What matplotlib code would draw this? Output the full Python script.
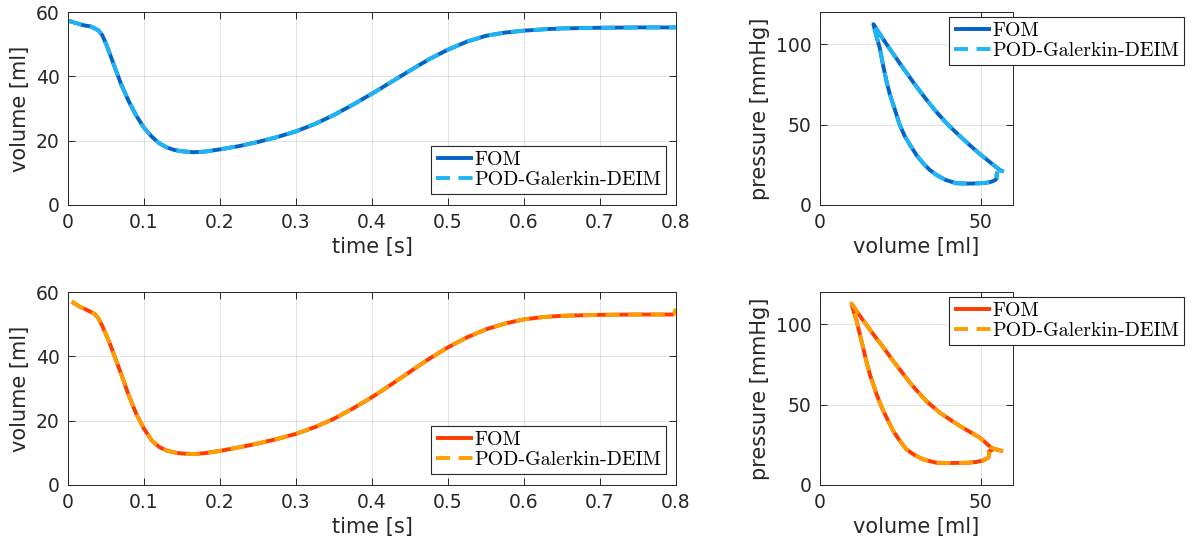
import matplotlib
matplotlib.use("Agg")
import matplotlib.pyplot as plt
from matplotlib.font_manager import FontProperties

W, H = 1195, 549

# ---- volume over time (top: case 1, bottom: case 2)
t_top = [0, 0.01, 0.02, 0.03, 0.04, 0.045, 0.05, 0.055, 0.06, 0.07, 0.08, 0.09,
         0.10, 0.11, 0.12, 0.13, 0.14, 0.15, 0.165, 0.18, 0.2, 0.225, 0.25, 0.275,
         0.3, 0.325, 0.35, 0.375, 0.4, 0.425, 0.45, 0.475, 0.5, 0.525, 0.55, 0.575,
         0.6, 0.625, 0.65, 0.7, 0.75, 0.8]
v_top = [57.3, 56.6, 55.9, 55.5, 54.3, 52.8, 50.2, 47.0, 43.8, 37.5, 32.2, 27.7,
         24.0, 21.3, 19.2, 17.9, 17.1, 16.7, 16.4, 16.6, 17.3, 18.3, 19.6, 21.1,
         22.9, 25.2, 28.0, 31.2, 34.6, 38.2, 41.8, 45.3, 48.3, 50.8, 52.6, 53.6,
         54.2, 54.6, 54.9, 55.1, 55.2, 55.2]

t_bot = [0.005, 0.015, 0.025, 0.035, 0.04, 0.045, 0.05, 0.055, 0.06, 0.07, 0.08, 0.09,
         0.10, 0.11, 0.12, 0.13, 0.14, 0.15, 0.165, 0.18, 0.2, 0.225, 0.25, 0.275,
         0.3, 0.325, 0.35, 0.375, 0.4, 0.425, 0.45, 0.475, 0.5, 0.525, 0.55, 0.575,
         0.6, 0.625, 0.65, 0.7, 0.75, 0.797]
v_bot = [57.0, 55.5, 54.4, 53.2, 51.8, 49.5, 46.8, 44.0, 40.8, 34.5, 27.8, 22.0,
         17.5, 13.9, 11.8, 10.7, 10.1, 9.8, 9.6, 9.9, 10.6, 11.7, 12.9, 14.3,
         15.9, 18.0, 20.6, 23.8, 27.3, 31.2, 35.2, 39.2, 42.8, 45.9, 48.4, 50.2,
         51.5, 52.2, 52.6, 52.9, 53.0, 53.0]
# reduced model ends with a small jump at t = 0.8
t_bot_rom_end = [0.8]
v_bot_rom_end = [54.8]

# ---- pressure-volume loops
pv_top_v = [57.1, 55.9, 53.3, 50.0, 46.5, 43.0, 39.8, 36.3, 32.8, 29.3, 25.9, 22.8,
            19.7, 16.6, 17.4, 18.6, 19.6, 20.7, 21.7, 22.8, 24.8, 26.3, 28.0, 30.0,
            32.1, 34.0, 36.2, 39.0, 42.4, 46.0, 49.7, 52.0, 53.3, 54.5, 54.9, 54.9, 55.2]
pv_top_p = [20.7, 21.8, 25.9, 31.2, 37.3, 43.8, 49.9, 57.6, 66.2, 75.5, 85.0, 93.8,
            102.9, 112.4, 106.0, 97.5, 87.0, 76.7, 69.0, 62.2, 49.8, 43.0, 37.3, 31.0,
            25.9, 22.0, 18.7, 15.6, 13.5, 13.3, 13.5, 13.9, 14.5, 15.5, 16.6, 18.8, 20.7]

pv_bot_v = [56.9, 55.0, 53.3, 51.5, 49.7, 46.6, 43.5, 40.4, 37.3, 35.2, 33.1, 30.5,
            27.95, 25.4, 22.8, 19.7, 16.6, 13.1, 9.8, 10.6, 11.4, 12.4, 13.4, 14.4,
            15.5, 17.6, 19.7, 22.8, 24.8, 26.9, 29.5, 32.1, 36.2, 41.0, 45.6, 48.5,
            50.7, 52.3, 52.6, 52.6, 53.8]
pv_bot_p = [21.0, 22.0, 23.1, 26.3, 29.4, 33.0, 36.7, 40.7, 44.9, 48.5, 52.1, 57.8,
            63.6, 70.3, 77.0, 85.5, 93.7, 103.2, 112.8, 107.0, 102.0, 93.5, 85.4, 77.0,
            68.8, 56.3, 45.9, 33.5, 27.5, 22.1, 18.5, 15.9, 13.8, 13.7, 13.8, 14.3,
            15.2, 16.9, 19.0, 21.0, 22.1]

labels = ["FOM", "POD-Galerkin-DEIM"]
blue_fom, blue_rom = "#0563C8", "#1DB5F4"
red_fom, red_rom = "#FF3B00", "#FF9E00"

TXT = "#262626"
plt.rcParams["font.family"] = "DejaVu Sans"
legend_font = FontProperties(family="cmr10", size=14.4)


def px_rect(left, right, top, bottom):
    return [left / W, 1 - bottom / H, (right - left) / W, (bottom - top) / H]


def style_axes(ax):
    for s in ax.spines.values():
        s.set_color(TXT)
        s.set_linewidth(0.7)
    ax.tick_params(direction="in", top=True, right=True, length=5, width=0.7,
                   color=TXT, labelcolor=TXT, labelsize=13.5, pad=6)
    ax.grid(True, color=TXT, alpha=0.15, linewidth=0.6)
    ax.set_axisbelow(True)


def draw_pair(ax, x1, y1, x2, y2, c1, c2):
    ax.plot(x1, y1, color=c1, lw=2.8, solid_capstyle="butt", label=labels[0])
    ln, = ax.plot(x2, y2, color=c2, lw=2.8, label=labels[1])
    ln.set_dashes([3.6, 2.2])


def add_legend(ax, loc, x, y):
    leg = ax.legend(loc=loc, bbox_to_anchor=(x / W, 1 - y / H),
                    bbox_transform=ax.figure.transFigure, prop=legend_font,
                    frameon=True, fancybox=False, framealpha=1, borderaxespad=0,
                    borderpad=0.25, labelspacing=0.1, handlelength=1.85,
                    handletextpad=0.05)
    leg.get_frame().set_edgecolor(TXT)
    leg.get_frame().set_linewidth(0.8)


fig = plt.figure(figsize=(W / 100, H / 100), dpi=100)

rows = [
    (12, 205, t_top, v_top, t_top, v_top, pv_top_v, pv_top_p, blue_fom, blue_rom),
    (292, 485, t_bot, v_bot, t_bot + t_bot_rom_end, v_bot + v_bot_rom_end,
     pv_bot_v, pv_bot_p, red_fom, red_rom),
]

for top, bottom, t1, v1, t2, v2, pv_v, pv_p, c1, c2 in rows:
    ax = fig.add_axes(px_rect(68, 676, top, bottom))
    draw_pair(ax, t1, v1, t2, v2, c1, c2)
    ax.set_xlim(0, 0.8)
    ax.set_ylim(0, 60)
    ax.set_xticks([0, 0.1, 0.2, 0.3, 0.4, 0.5, 0.6, 0.7, 0.8])
    ax.set_xticklabels(["0", "0.1", "0.2", "0.3", "0.4", "0.5", "0.6", "0.7", "0.8"])
    ax.set_yticks([0, 20, 40, 60])
    ax.set_xlabel("time [s]", fontsize=15, color=TXT, labelpad=3)
    ax.set_ylabel("volume [ml]", fontsize=15, color=TXT, labelpad=4)
    style_axes(ax)
    add_legend(ax, "lower right", 666, bottom - 11)

    ax2 = fig.add_axes(px_rect(820, 1013, top, bottom))
    draw_pair(ax2, pv_v, pv_p, pv_v, pv_p, c1, c2)
    ax2.set_xlim(0, 60)
    ax2.set_ylim(0, 120)
    ax2.set_xticks([0, 50])
    ax2.set_yticks([0, 50, 100])
    ax2.set_xlabel("volume [ml]", fontsize=15, color=TXT, labelpad=3)
    ax2.set_ylabel("pressure [mmHg]", fontsize=15, color=TXT, labelpad=4)
    style_axes(ax2)
    add_legend(ax2, "upper left", 949, top + 5)

fig.savefig("out.png", dpi=100)
